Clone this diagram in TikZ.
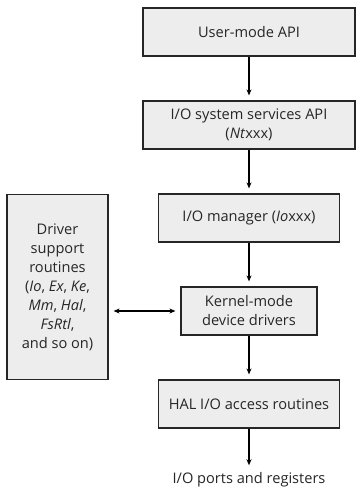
\documentclass[tikz,border=0pt]{standalone}
\usepackage{fontspec}
\setmainfont{Open Sans}
\usetikzlibrary{arrows.meta,positioning}

\begin{document}
\begin{tikzpicture}[node distance=93pt,on grid,line width=1.2pt,
   box/.style={draw=black!85,fill=black!7,align=center,inner sep=0pt},
   >={Stealth[length=6pt,width=5pt]},
   font=\fontsize{14.6}{19}\selectfont,text=black!85]
   \useasboundingbox (0,0) rectangle (356pt,-488pt);
   \node[box,minimum width=212pt,minimum height=48pt] (api) at (249pt,-32pt) {User-mode API};
   \node[box,minimum width=212pt,minimum height=48pt] (nt) [below=of api] {I/O system services API\\(\textit{Nt}xxx)};
   \node[box,minimum width=181pt,minimum height=48pt] (iom) [below=of nt] {I/O manager (\textit{Io}xxx)};
   \node[box,minimum width=136pt,minimum height=48pt] (kmd) [below=of iom] {Kernel-mode\\device drivers};
   \node[box,minimum width=181pt,minimum height=48pt] (hal) [below=of kmd] {HAL I/O access routines};
   \node (ports) [below=75.5pt of hal] {I/O ports and registers};
   \node[box,minimum width=101pt,minimum height=185pt] (drv) [left=191.5pt of kmd,yshift=24pt]
      {Driver\\support\\routines\\(\textit{Io}, \textit{Ex}, \textit{Ke},\\\textit{Mm}, \textit{Hal},\\\textit{FsRtl},\\and so on)};
    \path[->,shorten >=5pt]
    (api) edge (nt)
    (nt) edge (iom)
    (iom) edge (kmd)
    (kmd) edge (hal)
    (hal) edge ([yshift=-2pt]ports.north);
    \path[<->,shorten >=5pt,shorten <=5pt]
    (drv.east |- kmd) edge (kmd);
\end{tikzpicture}
\end{document}
